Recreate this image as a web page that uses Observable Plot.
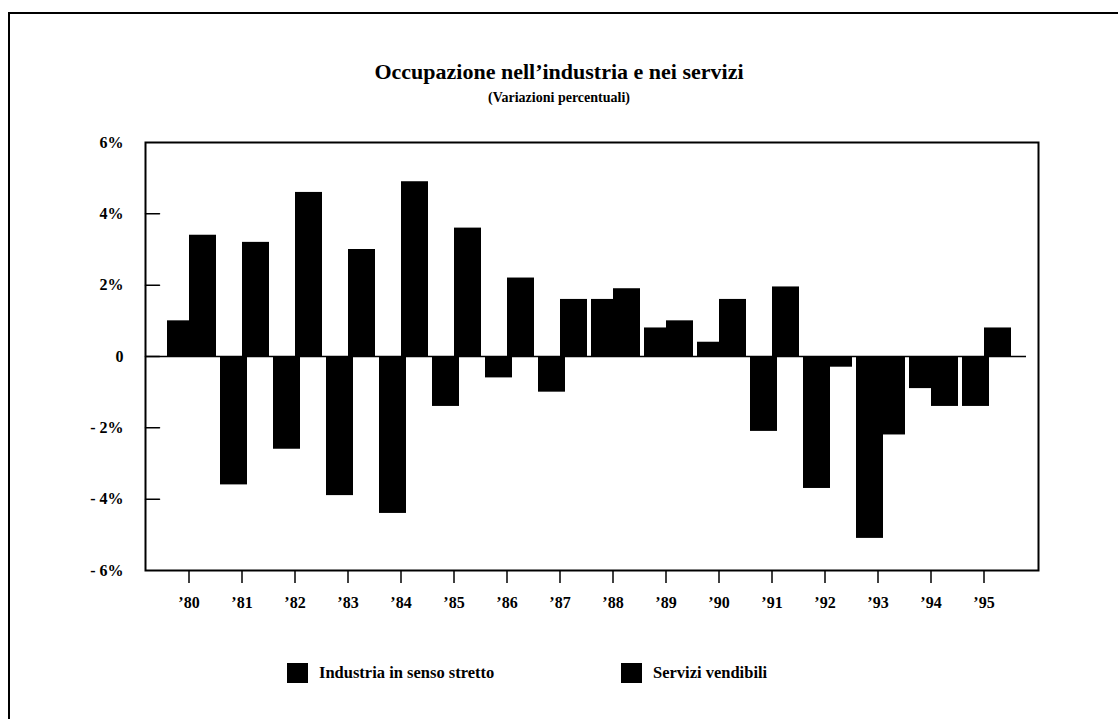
<!DOCTYPE html>
<html>
<head>
<meta charset="utf-8">
<script src="https://cdn.jsdelivr.net/npm/d3@7"></script>
<script src="https://cdn.jsdelivr.net/npm/@observablehq/plot@0.6"></script>
<style>
  html, body { margin: 0; padding: 0; background: #fff; }
  #page { position: relative; width: 1118px; height: 719px; overflow: hidden; font-family: "Liberation Serif", "DejaVu Serif", serif; color: #000; }
  #border { position: absolute; left: 8px; top: 12px; width: 1200px; height: 800px; border-left: 2px solid #000; border-top: 2px solid #000; }
  #title { position: absolute; left: 0; width: 1118px; top: 59px; text-align: center; font-weight: bold; font-size: 22px; }
  #subtitle { position: absolute; left: 0; width: 1118px; top: 90px; text-align: center; font-size: 14px; font-weight: bold; }
  #chart { position: absolute; left: 0; top: 120px; }
  .leg { position: absolute; top: 663px; display: flex; align-items: center; font-size: 16.5px; font-weight: bold; }
  .sw { width: 21px; height: 20px; background: #000; margin-right: 11px; }
</style>
</head>
<body>
<div id="page">
  <div id="border"></div>
  <div id="title">Occupazione nell’industria e nei servizi</div>
  <div id="subtitle">(Variazioni percentuali)</div>
  <div id="chart"></div>
  <div class="leg" style="left:287px"><div class="sw"></div><span id="l0"></span></div>
  <div class="leg" style="left:621px"><div class="sw"></div><span id="l1"></span></div>
</div>
<script>
const years = ["’80","’81","’82","’83","’84","’85","’86","’87","’88","’89","’90","’91","’92","’93","’94","’95"];
const seriesNames = ["Industria in senso stretto", "Servizi vendibili"];
const industria = [1.0, -3.6, -2.6, -3.9, -4.4, -1.4, -0.6, -1.0, 1.6, 0.8, 0.4, -2.1, -3.7, -5.1, -0.9, -1.4];
const servizi   = [3.4, 3.2, 4.6, 3.0, 4.9, 3.6, 2.2, 1.6, 1.9, 1.0, 1.6, 1.95, -0.3, -2.2, -1.4, 0.8];
const yTicks = [-6, -4, -2, 0, 2, 4, 6];
const yTickLabels = ["- 6%", "- 4%", "- 2%", "0", "2%", "4%", "6%"];

document.getElementById("l0").textContent = seriesNames[0];
document.getElementById("l1").textContent = seriesNames[1];

const dataInd = years.map((y, i) => ({year: y, value: industria[i]}));
const dataSer = years.map((y, i) => ({year: y, value: servizi[i]}));

const tickShape = { draw(context, l) { context.moveTo(0, 0); context.lineTo(0, -l); } };

const chart = Plot.plot({
  width: 1118,
  height: 500,
  marginTop: 22,
  marginBottom: 50,
  marginLeft: 145,
  marginRight: 80,
  style: { fontFamily: "Liberation Serif, serif", fontWeight: "bold", fontSize: "16px", color: "#000", background: "transparent" },
  x: { domain: years, paddingInner: 0.485, paddingOuter: 0.603, align: 0.42, label: null },
  y: { domain: [-6, 6], label: null },
  marks: [
    Plot.barY(dataInd, { x: "year", y: "value", fill: "#000", dx: -8 }),
    Plot.barY(dataSer, { x: "year", y: "value", fill: "#000", dx: 14 }),
    Plot.ruleY([0], { stroke: "#000", strokeWidth: 1.5, insetRight: 12 }),
    Plot.frame({ stroke: "#000", strokeWidth: 2 }),
    Plot.axisX({ tickSize: 13, tickPadding: 13, stroke: "#000", strokeWidth: 1.5, fontSize: 16, fontWeight: "bold" }),
    Plot.axisY({ ticks: yTicks, tickSize: 0, tickPadding: 22, tickFormat: (d) => yTickLabels[yTicks.indexOf(d)], fontSize: 16, fontWeight: "bold" }),
    Plot.vector(yTicks.slice(1, -1), { y: (d) => d, frameAnchor: "left", length: 14, rotate: 90, anchor: "start", shape: tickShape, stroke: "#000", strokeWidth: 1.5 })
  ]
});
document.getElementById("chart").appendChild(chart);
</script>
</body>
</html>
